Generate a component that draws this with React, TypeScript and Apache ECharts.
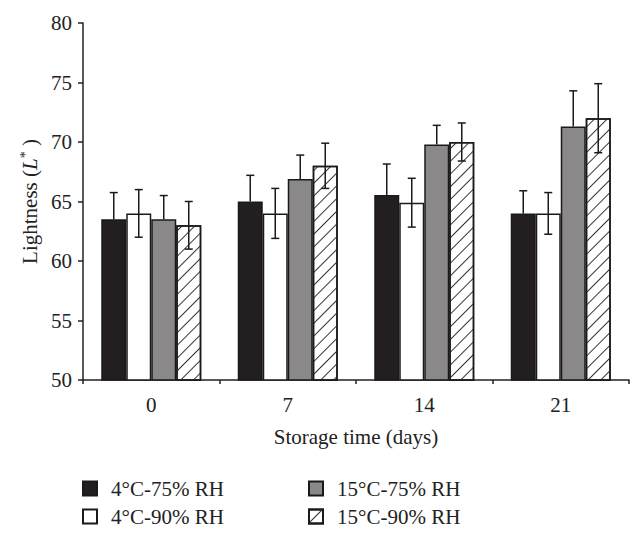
import React, { useEffect, useRef } from "react";
import * as echarts from "echarts";

const categories = ["0", "7", "14", "21"];
const seriesNames = ["4°C-75% RH", "4°C-90% RH", "15°C-75% RH", "15°C-90% RH"];
const s4_75 = [63.5, 65.0, 65.55, 64.0];
const err4_75 = [2.25, 2.2, 2.6, 1.9];
const s4_90 = [64.0, 64.0, 64.9, 64.0];
const err4_90 = [2.0, 2.1, 2.05, 1.75];
const s15_75 = [63.5, 66.9, 69.8, 71.3];
const err15_75 = [2.0, 2.0, 1.6, 3.0];
const s15_90 = [63.0, 68.0, 70.0, 72.0];
const err15_90 = [2.0, 1.9, 1.6, 2.9];
const yTicks = [50, 55, 60, 65, 70, 75, 80];

const FONT = "'Liberation Serif', 'Times New Roman', serif";
const FS = 21;
const BAR_W = 25;

export default function App() {
  const ref = useRef<HTMLDivElement>(null);
  useEffect(() => {
    if (!ref.current) return;
    const chart = echarts.init(ref.current, undefined, { renderer: "svg" });
    const values = [s4_75, s4_90, s15_75, s15_90];
    const errs = [err4_75, err4_90, err15_75, err15_90];
    const fullErr = [false, true, false, true];
    const styles: any[] = [
      { color: "#231f20", borderColor: "#1a1a1a", borderWidth: 1.5 },
      { color: "#ffffff", borderColor: "#1a1a1a", borderWidth: 1.5 },
      { color: "#8a8889", borderColor: "#1a1a1a", borderWidth: 1.5 },
      {
        color: "#ffffff",
        borderColor: "#1a1a1a",
        borderWidth: 1.5,
        decal: {
          symbol: "rect",
          symbolSize: 1,
          dashArrayX: [1, 0],
          dashArrayY: [1, 7.8],
          rotation: -Math.PI / 4,
          color: "#333",
          backgroundColor: "#ffffff",
        },
      },
    ];
    const errData: any[] = [];
    values.forEach((arr, si) => {
      arr.forEach((v, ci) => {
        errData.push([ci, si, v, errs[si][ci], fullErr[si] ? 1 : 0]);
      });
    });
    const legendPos = [
      { left: 82, top: 478 },
      { left: 82, top: 506 },
      { left: 308, top: 478 },
      { left: 308, top: 506 },
    ];
    chart.setOption({
      animation: false,
      grid: { left: 83, right: 14, top: 23, bottom: 166 },
      legend: seriesNames.map((n, i) => ({
        data: [n],
        left: legendPos[i].left,
        top: legendPos[i].top,
        icon: "rect",
        itemWidth: 14,
        itemHeight: 14,
        padding: 0,
        textStyle: {
          fontFamily: FONT,
          fontSize: FS,
          color: "#222",
          padding: [0, 0, 0, 9],
        },
      })),
      xAxis: {
        type: "category",
        data: categories,
        name: "Storage time (days)",
        nameLocation: "middle",
        nameGap: 46,
        nameTextStyle: { fontFamily: FONT, fontSize: FS, color: "#222" },
        axisLine: { lineStyle: { color: "#222", width: 1.5 } },
        axisTick: { show: true, length: 4, lineStyle: { color: "#222", width: 1.5 } },
        axisLabel: { fontFamily: FONT, fontSize: FS, color: "#222", margin: 14 },
      },
      yAxis: {
        type: "value",
        min: 50,
        max: 80,
        interval: 5,
        name: "{a|Lightness (}{i|L}{s|*}{a| )}",
        nameLocation: "middle",
        nameGap: 42,
        nameRotate: 90,
        nameTextStyle: {
          fontFamily: FONT,
          fontSize: FS,
          color: "#222",
          rich: {
            a: { fontFamily: FONT, fontSize: FS, color: "#222" },
            i: { fontFamily: FONT, fontSize: FS, color: "#222", fontStyle: "italic" },
            s: { fontFamily: FONT, fontSize: 14, color: "#222", verticalAlign: "top", padding: [0, 0, 9, 0] },
          },
        },
        axisLine: { show: true, lineStyle: { color: "#222", width: 1.5 } },
        axisTick: { show: true, length: 5, lineStyle: { color: "#222", width: 1.5 } },
        axisLabel: {
          fontFamily: FONT,
          fontSize: FS,
          color: "#222",
          margin: 11,
          formatter: (v: number) => (yTicks.includes(v) ? String(v) : ""),
        },
        splitLine: { show: false },
      },
      series: [
        ...seriesNames.map((n, i) => ({
          name: n,
          type: "bar",
          data: values[i],
          barWidth: BAR_W,
          barGap: "0%",
          itemStyle: styles[i],
          z: 2,
        })),
        {
          type: "custom",
          name: "err",
          z: 5,
          encode: { x: 0, y: 2 },
          data: errData,
          renderItem: (params: any, api: any) => {
            const ci = api.value(0);
            const si = api.value(1);
            const v = api.value(2);
            const e = api.value(3);
            const full = api.value(4);
            const cx = api.coord([ci, v])[0] + (si - 1.5) * BAR_W;
            const yTop = api.coord([ci, v + e])[1];
            const yBot = api.coord([ci, full ? v - e : v])[1];
            const st = { stroke: "#1a1a1a", lineWidth: 1.5 };
            const children: any[] = [
              { type: "line", shape: { x1: cx, y1: yTop, x2: cx, y2: yBot }, style: st },
              { type: "line", shape: { x1: cx - 4, y1: yTop, x2: cx + 4, y2: yTop }, style: st },
            ];
            if (full) {
              children.push({ type: "line", shape: { x1: cx - 4, y1: yBot, x2: cx + 4, y2: yBot }, style: st });
            }
            return { type: "group", children };
          },
        },
      ],
    });
    return () => chart.dispose();
  }, []);
  return <div ref={ref} style={{ width: 643, height: 546, position: "absolute", left: 0, top: 0 }} />;
}
